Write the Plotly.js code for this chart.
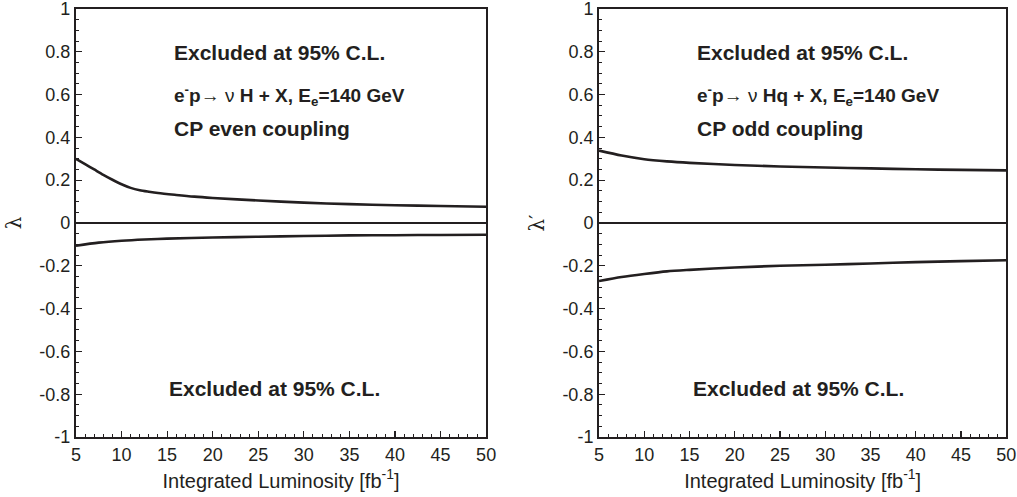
<!DOCTYPE html>
<html>
<head>
<meta charset="utf-8">
<script src="https://cdn.plot.ly/plotly-3.0.1.min.js"></script>
<style>html,body{margin:0;padding:0;background:#fff}</style>
</head>
<body>
<div id="chart" style="width:1017px;height:497px"></div>
<script>
// Left panel: CP even coupling (lambda)
const lumiEvenUpper = [5, 6, 7, 8, 9, 10, 11, 12, 13, 14, 16, 18, 20, 25, 30, 35, 40, 45, 50];
const lambdaUpper   = [0.300, 0.275, 0.250, 0.225, 0.202, 0.181, 0.164, 0.153, 0.146, 0.140, 0.131, 0.123, 0.117, 0.105, 0.095, 0.088, 0.083, 0.079, 0.076];
const lumiEvenLower = [5, 7.5, 10, 12.5, 15, 20, 25, 30, 35, 40, 45, 50];
const lambdaLower   = [-0.106, -0.092, -0.083, -0.077, -0.073, -0.068, -0.064, -0.061, -0.058, -0.057, -0.056, -0.055];

// Right panel: CP odd coupling (lambda')
const lumiOdd        = [5, 7.5, 10, 12.5, 15, 20, 25, 30, 35, 40, 45, 50];
const lambdaPrimeUp  = [0.338, 0.315, 0.298, 0.288, 0.281, 0.271, 0.264, 0.259, 0.255, 0.251, 0.248, 0.246];
const lambdaPrimeLow = [-0.271, -0.252, -0.238, -0.226, -0.219, -0.208, -0.200, -0.195, -0.189, -0.183, -0.178, -0.174];

const xTickVals = [5, 10, 15, 20, 25, 30, 35, 40, 45, 50];
const yTickVals = [-1, -0.8, -0.6, -0.4, -0.2, 0, 0.2, 0.4, 0.6, 0.8, 1];
const yTickText = ['-1', '-0.8', '-0.6', '-0.4', '-0.2', '0', '0.2', '0.4', '0.6', '0.8', '1'];

const FONT = 'Liberation Sans, Arial, Helvetica, sans-serif';
const INK = '#231f20';
const lineStyle = {color: INK, width: 2.6, shape: 'spline', smoothing: 0.8};

const traces = [
  {x: lumiEvenUpper, y: lambdaUpper, xaxis: 'x', yaxis: 'y', mode: 'lines', line: lineStyle, showlegend: false, hoverinfo: 'skip'},
  {x: lumiEvenLower, y: lambdaLower, xaxis: 'x', yaxis: 'y', mode: 'lines', line: lineStyle, showlegend: false, hoverinfo: 'skip'},
  {x: lumiOdd, y: lambdaPrimeUp, xaxis: 'x2', yaxis: 'y2', mode: 'lines', line: lineStyle, showlegend: false, hoverinfo: 'skip'},
  {x: lumiOdd, y: lambdaPrimeLow, xaxis: 'x2', yaxis: 'y2', mode: 'lines', line: lineStyle, showlegend: false, hoverinfo: 'skip'}
];

function xAxis(domain, anchor) {
  return {
    domain: domain, anchor: anchor, range: [5, 50], tickvals: xTickVals,
    ticks: 'inside', ticklen: 6, tickwidth: 1.2, tickcolor: INK,
    minor: {ticks: 'inside', dtick: 1, ticklen: 3, tickwidth: 1, tickcolor: INK, showgrid: false},
    showline: true, linecolor: INK, linewidth: 2, mirror: true,
    showgrid: false, zeroline: false, ticklabeloverflow: 'allow',
    tickfont: {family: FONT, size: 18, color: INK},
    title: {text: 'Integrated Luminosity [fb<sup>-1</sup>]', font: {family: FONT, size: 20, color: INK}, standoff: 10}
  };
}
function yAxis(domain, anchor, title) {
  return {
    domain: domain, anchor: anchor, range: [-1, 1], tickvals: yTickVals, ticktext: yTickText,
    ticks: 'inside', ticklen: 6, tickwidth: 1.2, tickcolor: INK,
    minor: {ticks: 'inside', dtick: 0.05, ticklen: 3, tickwidth: 1, tickcolor: INK, showgrid: false},
    showline: true, linecolor: INK, linewidth: 2, mirror: true,
    showgrid: false, zeroline: true, zerolinecolor: INK, zerolinewidth: 1.8,
    ticklabeloverflow: 'allow',
    tickfont: {family: FONT, size: 18, color: INK},
    title: {text: title, font: {family: 'DejaVu Serif, serif', size: 20, color: INK}, standoff: 12}
  };
}

const yDom = [0.1207, 0.982];
function ann(xref, x, y, text, size) {
  return {xref: xref + ' domain', yref: 'paper', x: x, y: y, xanchor: 'left', yanchor: 'middle',
          text: text, showarrow: false, font: {family: FONT, size: size, color: INK}};
}
const proc1 = '<b>e<sup>-</sup>p</b>\u2192 \u03bd <b>H + X, E<sub>e</sub>=140 GeV</b>';
const proc2 = '<b>e<sup>-</sup>p</b>\u2192 \u03bd <b>Hq + X, E<sub>e</sub>=140 GeV</b>';

const layout = {
  width: 1017, height: 497,
  margin: {l: 0, r: 0, t: 0, b: 0},
  paper_bgcolor: '#fff', plot_bgcolor: '#fff',
  xaxis: xAxis([0.0747, 0.478], 'y'),
  yaxis: yAxis(yDom, 'x', '\u03bb'),
  xaxis2: xAxis([0.589, 0.9895], 'y2'),
  yaxis2: yAxis(yDom, 'x2', '\u03bb\u2032'),
  annotations: [
    ann('x', 0.234, 1 - 52/497, '<b>Excluded at 95% C.L.</b>', 21),
    ann('x', 0.234, 1 - 95/497, proc1, 19),
    ann('x', 0.234, 1 - 128/497, '<b>CP even coupling</b>', 21),
    ann('x', 0.222, 1 - 388/497, '<b>Excluded at 95% C.L.</b>', 21),
    ann('x2', 0.236, 1 - 52/497, '<b>Excluded at 95% C.L.</b>', 21),
    ann('x2', 0.236, 1 - 95/497, proc2, 19),
    ann('x2', 0.236, 1 - 128/497, '<b>CP odd coupling</b>', 21),
    ann('x2', 0.226, 1 - 388/497, '<b>Excluded at 95% C.L.</b>', 21)
  ]
};

Plotly.newPlot('chart', traces, layout, {staticPlot: true, displayModeBar: false});
</script>
</body>
</html>
